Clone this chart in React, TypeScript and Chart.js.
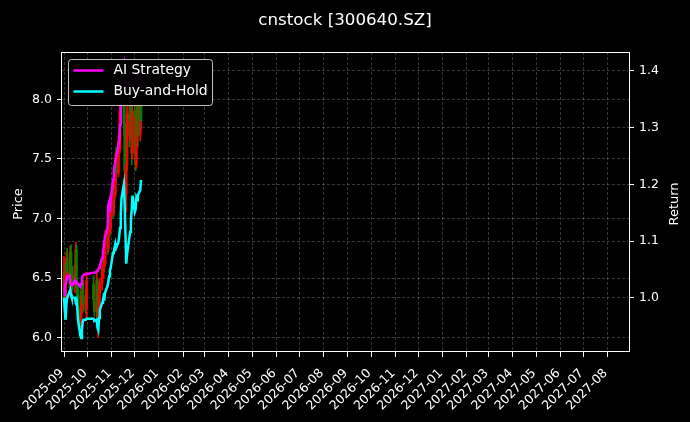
import React, { useEffect, useRef } from 'react';
import { Chart, registerables } from 'chart.js';

Chart.register(...registerables);

const chartTitle = 'cnstock [300640.SZ]';
const priceLabel = 'Price';
const returnLabel = 'Return';
const seriesNames = ['AI Strategy', 'Buy-and-Hold'];

const tradeDates = [
  '2025-09-01', '2025-09-02', '2025-09-03', '2025-09-04', '2025-09-05',
  '2025-09-08', '2025-09-09', '2025-09-10', '2025-09-11', '2025-09-12',
  '2025-09-15', '2025-09-16', '2025-09-17', '2025-09-18', '2025-09-19',
  '2025-09-22', '2025-09-23', '2025-09-24', '2025-09-25', '2025-09-26',
  '2025-09-29', '2025-09-30',
  '2025-10-09', '2025-10-10',
  '2025-10-13', '2025-10-14', '2025-10-15', '2025-10-16', '2025-10-17',
  '2025-10-20', '2025-10-21', '2025-10-22', '2025-10-23', '2025-10-24',
  '2025-10-27', '2025-10-28', '2025-10-29', '2025-10-30', '2025-10-31',
  '2025-11-03', '2025-11-04', '2025-11-05', '2025-11-06', '2025-11-07',
  '2025-11-10', '2025-11-11', '2025-11-12', '2025-11-13', '2025-11-14',
  '2025-11-17', '2025-11-18', '2025-11-19', '2025-11-20', '2025-11-21',
  '2025-11-24', '2025-11-25', '2025-11-26', '2025-11-27', '2025-11-28',
  '2025-12-01', '2025-12-02', '2025-12-03', '2025-12-04', '2025-12-05',
  '2025-12-08', '2025-12-09',
];

const opens = [
  6.40, 6.55, 6.32, 6.52, 6.66, 6.55, 6.48, 6.72, 6.46, 6.52,
  6.44, 6.58, 6.74, 6.42, 6.36, 6.24, 6.12, 6.26, 6.38, 6.35,
  6.28, 6.24, 6.45, 6.32, 6.22, 6.48, 6.14, 6.26, 6.38, 6.46,
  6.58, 6.55, 6.74, 6.62, 6.85, 6.75, 7.00, 7.10, 6.92, 7.15,
  7.05, 7.30, 7.20, 7.50, 7.38, 7.65, 7.58, 7.90, 8.15, 8.05,
  7.80, 7.40, 7.20, 7.45, 7.88, 7.70, 7.98, 7.82, 7.55, 7.90,
  7.62, 7.45, 7.85, 8.05, 7.70, 7.95,
];
const highs = [
  6.68, 6.62, 6.60, 6.72, 6.75, 6.70, 6.77, 6.78, 6.58, 6.60,
  6.62, 6.80, 6.78, 6.50, 6.45, 6.40, 6.30, 6.42, 6.50, 6.48,
  6.40, 6.55, 6.52, 6.40, 6.57, 6.50, 6.30, 6.42, 6.50, 6.62,
  6.72, 6.80, 6.82, 6.90, 6.95, 7.05, 7.15, 7.15, 7.20, 7.30,
  7.35, 7.45, 7.55, 7.60, 7.70, 7.80, 7.95, 8.20, 8.28, 8.25,
  7.95, 7.60, 7.55, 7.95, 8.10, 8.05, 8.15, 8.00, 7.95, 8.05,
  7.85, 7.90, 8.10, 8.15, 8.05, 8.00,
];
const lows = [
  6.30, 6.25, 6.28, 6.45, 6.48, 6.42, 6.44, 6.42, 6.36, 6.40,
  6.38, 6.50, 6.38, 6.30, 6.20, 6.05, 6.08, 6.20, 6.30, 6.22,
  6.20, 6.16, 6.28, 6.18, 6.16, 6.10, 6.00, 6.20, 6.28, 6.40,
  6.50, 6.50, 6.58, 6.60, 6.70, 6.72, 6.90, 6.85, 6.88, 7.00,
  7.02, 7.15, 7.18, 7.30, 7.35, 7.50, 7.55, 7.85, 7.95, 7.70,
  7.30, 7.10, 7.05, 7.40, 7.60, 7.65, 7.75, 7.45, 7.50, 7.55,
  7.40, 7.42, 7.75, 7.60, 7.65, 7.75,
];
const closes = [
  6.55, 6.32, 6.52, 6.66, 6.55, 6.48, 6.72, 6.46, 6.52, 6.44,
  6.58, 6.74, 6.42, 6.36, 6.24, 6.12, 6.26, 6.38, 6.35, 6.28,
  6.24, 6.48, 6.32, 6.22, 6.48, 6.14, 6.26, 6.38, 6.46, 6.58,
  6.55, 6.74, 6.62, 6.85, 6.75, 7.00, 7.10, 6.92, 7.15, 7.05,
  7.30, 7.20, 7.50, 7.38, 7.65, 7.58, 7.90, 8.15, 8.05, 7.80,
  7.40, 7.20, 7.45, 7.88, 7.70, 7.98, 7.82, 7.55, 7.90, 7.62,
  7.45, 7.85, 8.05, 7.70, 7.95, 7.82,
];

const aiStrategy = [
  1.005, 1.017, 1.026, 1.031, 1.037, 1.039, 1.028, 1.024, 1.023, 1.023,
  1.030, 1.026, 1.028, 1.026, 1.024, 1.019, 1.024, 1.035, 1.038, 1.040,
  1.042, 1.042, 1.044, 1.044, 1.046, 1.047, 1.049, 1.053, 1.056, 1.070,
  1.081, 1.090, 1.102, 1.109, 1.123, 1.164, 1.169, 1.151, 1.172, 1.208,
  1.222, 1.234, 1.239, 1.247, 1.270, 1.278, 1.305, 1.349, 1.384, 1.409,
  1.390, 1.370, 1.360, 1.375, 1.385, 1.390, 1.380, 1.370, 1.385, 1.380,
  1.370, 1.385, 1.395, 1.390, 1.400, 1.395,
];
const buyAndHold = [
  1.000, 0.978, 0.961, 0.987, 1.000, 1.010, 1.014, 1.005, 1.000, 1.000,
  1.000, 0.993, 0.996, 0.982, 0.961, 0.933, 0.929, 0.943, 0.957, 0.961,
  0.961, 0.963, 0.963, 0.959, 0.961, 0.947, 0.943, 0.964, 0.978, 0.991,
  0.996, 1.003, 1.000, 1.010, 1.021, 1.028, 1.038, 1.049, 1.053, 1.079,
  1.081, 1.088, 1.095, 1.088, 1.098, 1.109, 1.123, 1.151, 1.176, 1.200,
  1.164, 1.111, 1.060, 1.076, 1.106, 1.116, 1.134, 1.155, 1.180, 1.151,
  1.155, 1.176, 1.172, 1.181, 1.190, 1.208,
];

const monthTicks = [
  '2025-09', '2025-10', '2025-11', '2025-12', '2026-01', '2026-02', '2026-03', '2026-04',
  '2026-05', '2026-06', '2026-07', '2026-08', '2026-09', '2026-10', '2026-11', '2026-12',
  '2027-01', '2027-02', '2027-03', '2027-04', '2027-05', '2027-06', '2027-07', '2027-08',
];
const priceTicks = [6.0, 6.5, 7.0, 7.5, 8.0];
const returnTicks = [1.0, 1.1, 1.2, 1.3, 1.4];

const DAY = 86400000;
const toTime = (s: string) => Date.parse(s + 'T00:00:00Z');
const monthTime = (m: string) => Date.parse(m + '-01T00:00:00Z');

const X_MIN = monthTime('2025-09') - 2.6 * DAY;
const X_MAX = monthTime('2027-08') + 27.4 * DAY;
const PRICE_MIN = 5.88;
const PRICE_MAX = 8.397;
const RET_MIN = 0.9042;
const RET_MAX = 1.4335;

const FONT = "'DejaVu Sans', sans-serif";
const UP = '#ff0000';
const DOWN = '#008000';
const MAGENTA = '#ff00ff';
const CYAN = '#00ffff';
const GRID = 'rgba(255,255,255,0.27)';

const decor = {
  id: 'decor',
  beforeDraw(chart: any) {
    const { ctx, width, height } = chart;
    ctx.save();
    ctx.fillStyle = '#000';
    ctx.fillRect(0, 0, width, height);
    ctx.restore();
  },
  afterDatasetsDraw(chart: any) {
    const { ctx, chartArea } = chart;
    ctx.save();
    ctx.strokeStyle = '#ffffff';
    ctx.lineWidth = 1;
    ctx.strokeRect(
      Math.round(chartArea.left) - 0.5,
      Math.round(chartArea.top) + 0.5,
      Math.round(chartArea.right - chartArea.left) + 1,
      Math.round(chartArea.bottom - chartArea.top) - 1,
    );
    const lx = chartArea.left + 6.5;
    const ly = chartArea.top + 7.5;
    ctx.beginPath();
    (ctx as any).roundRect(lx, ly, 144, 46, 3);
    ctx.fillStyle = 'rgba(0,0,0,0.97)';
    ctx.fill();
    ctx.strokeStyle = 'rgba(255,255,255,0.75)';
    ctx.lineWidth = 1;
    ctx.stroke();
    const colors = [MAGENTA, CYAN];
    ctx.font = `13.9px ${FONT}`;
    ctx.textBaseline = 'middle';
    ctx.textAlign = 'left';
    seriesNames.forEach((name, i) => {
      const yy = ly + 11 + i * 21;
      ctx.beginPath();
      ctx.strokeStyle = colors[i];
      ctx.lineWidth = 2.5;
      ctx.moveTo(lx + 5, yy);
      ctx.lineTo(lx + 35, yy);
      ctx.stroke();
      ctx.fillStyle = '#ffffff';
      ctx.fillText(name, lx + 45, yy);
    });
    ctx.restore();
  },
  afterDraw(chart: any) {
    const { ctx, chartArea, width } = chart;
    ctx.save();
    ctx.fillStyle = '#ffffff';
    ctx.textAlign = 'center';
    ctx.textBaseline = 'alphabetic';
    ctx.font = `16.7px ${FONT}`;
    ctx.fillText(chartTitle, width / 2, 25);
    const cy = (chartArea.top + chartArea.bottom) / 2 + 2;
    ctx.font = `13px ${FONT}`;
    ctx.save();
    ctx.translate(21.5, cy);
    ctx.rotate(-Math.PI / 2);
    ctx.fillText(priceLabel, 0, 0);
    ctx.restore();
    ctx.save();
    ctx.translate(678, cy);
    ctx.rotate(-Math.PI / 2);
    ctx.fillText(returnLabel, 0, 0);
    ctx.restore();
    ctx.restore();
  },
};

export default function App() {
  const ref = useRef<HTMLCanvasElement>(null);

  useEffect(() => {
    const canvas = ref.current;
    if (!canvas) return;
    const times = tradeDates.map(toTime);
    const candleColors = closes.map((c, i) => (c >= opens[i] ? UP : DOWN));

    const yGrid = {
      color: GRID,
      lineWidth: 0.8,
      drawTicks: true,
      tickLength: 5,
      tickColor: '#ffffff',
      tickWidth: 1,
    };

    const chart = new Chart(canvas, {
      type: 'bar',
      data: {
        datasets: [
          {
            type: 'line',
            label: seriesNames[0],
            data: times.map((t, i) => ({ x: t, y: aiStrategy[i] })),
            yAxisID: 'y1',
            borderColor: MAGENTA,
            backgroundColor: MAGENTA,
            borderWidth: 2.5,
            pointRadius: 0,
            tension: 0,
            order: 0,
          },
          {
            type: 'line',
            label: seriesNames[1],
            data: times.map((t, i) => ({ x: t, y: buyAndHold[i] })),
            yAxisID: 'y1',
            borderColor: CYAN,
            backgroundColor: CYAN,
            borderWidth: 2.5,
            pointRadius: 0,
            tension: 0,
            order: 1,
          },
          {
            type: 'bar',
            label: 'body',
            data: times.map((t, i) => ({ x: t, y: [opens[i], closes[i]] })),
            yAxisID: 'y',
            backgroundColor: candleColors,
            barThickness: 2,
            grouped: false,
            borderWidth: 0,
            order: 2,
          },
          {
            type: 'bar',
            label: 'wick',
            data: times.map((t, i) => ({ x: t, y: [lows[i], highs[i]] })),
            yAxisID: 'y',
            backgroundColor: candleColors,
            barThickness: 1,
            grouped: false,
            borderWidth: 0,
            order: 3,
          },
        ] as any,
      },
      options: {
        responsive: false,
        animation: false,
        devicePixelRatio: 1,
        events: [],
        layout: { padding: { top: 52, left: 0, right: 0, bottom: 0 } },
        plugins: {
          legend: { display: false },
          tooltip: { enabled: false },
          title: { display: false },
        },
        scales: {
          x: {
            type: 'linear',
            position: 'bottom',
            min: X_MIN,
            max: X_MAX,
            offset: false,
            afterBuildTicks: (s: any) => {
              s.ticks = monthTicks.map((m) => ({ value: monthTime(m) }));
            },
            afterFit: (s: any) => {
              s.height = 70;
            },
            grid: { ...yGrid, offset: false },
            border: { display: false, dash: [3, 2] },
            ticks: {
              autoSkip: false,
              minRotation: 45,
              maxRotation: 45,
              color: '#ffffff',
              font: { family: FONT, size: 12.5 },
              padding: 9,
              labelOffset: -2,
              callback: (_v: any, i: number) => monthTicks[i],
            },
          },
          y: {
            type: 'linear',
            position: 'left',
            min: PRICE_MIN,
            max: PRICE_MAX,
            afterBuildTicks: (s: any) => {
              s.ticks = priceTicks.map((v) => ({ value: v }));
            },
            afterFit: (s: any) => {
              s.width = 62;
            },
            grid: yGrid,
            border: { display: false, dash: [3, 2] },
            ticks: {
              color: '#ffffff',
              font: { family: FONT, size: 12.5 },
              padding: 5,
              callback: (v: any) => Number(v).toFixed(1),
            },
          },
          y1: {
            type: 'linear',
            position: 'right',
            min: RET_MIN,
            max: RET_MAX,
            afterBuildTicks: (s: any) => {
              s.ticks = returnTicks.map((v) => ({ value: v }));
            },
            afterFit: (s: any) => {
              s.width = 61;
            },
            grid: yGrid,
            border: { display: false, dash: [3, 2] },
            ticks: {
              color: '#ffffff',
              font: { family: FONT, size: 12.5 },
              padding: 5,
              callback: (v: any) => Number(v).toFixed(1),
            },
          },
        },
      } as any,
      plugins: [decor],
    });
    return () => chart.destroy();
  }, []);

  return (
    <div style={{ position: 'absolute', left: 0, top: 0, width: 690, height: 422, background: '#000' }}>
      <canvas ref={ref} width={690} height={422} style={{ display: 'block', width: 690, height: 422 }} />
    </div>
  );
}
